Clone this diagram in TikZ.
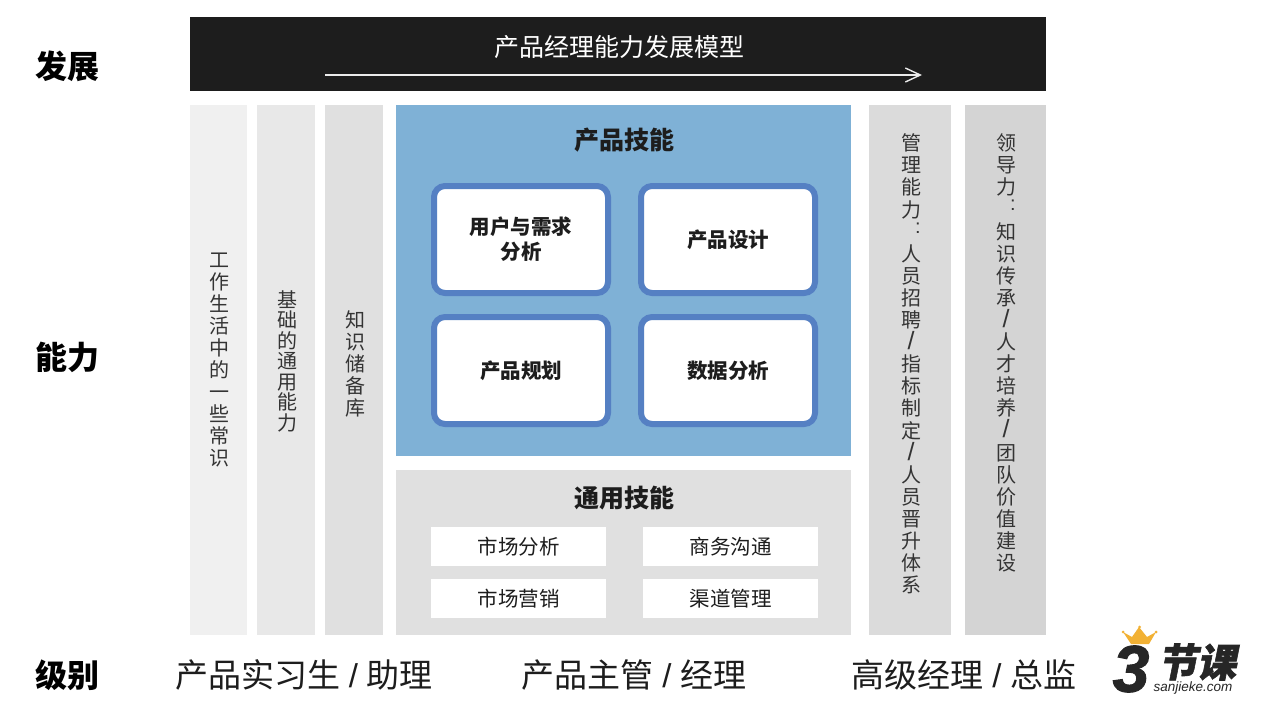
\documentclass[tikz,border=0pt]{standalone}
\usepackage{fontspec}
\usetikzlibrary{arrows.meta}
\setmainfont{Liberation Sans}
\newfontfamily\cjk{Noto Sans CJK SC}
\newfontfamily\logocjk[FakeSlant=0.2,FakeBold=1.5]{Noto Sans CJK SC}
\newfontfamily\logodigit[BoldItalicFeatures={FakeBold=1.5}]{Liberation Sans}
\newcommand{\vslash}{{\rmfamily\fontsize{25}{22}\selectfont /}}
\newcommand{\vcolon}{\hspace{14pt}\raisebox{6pt}{\rmfamily :}}
\newcommand{\gslash}{\hspace{1.5pt}{\rmfamily /}\hspace{1.5pt}}
\definecolor{inkblack}{HTML}{1D1D1D}
\definecolor{skillblue}{HTML}{7FB1D6}
\definecolor{cardblue}{HTML}{5580C3}
\definecolor{crowngold}{HTML}{F2B134}
\tikzset{
  panel/.style n args={3}{anchor=north west,inner sep=0,outer sep=0,minimum width=#1pt,minimum height=#2pt,fill=#3},
  vlabel/.style={align=center,text=inkblack!90,font=\cjk\fontsize{20}{22.1}\selectfont},
  hlabel/.style={text=inkblack,font=\cjk\fontsize{20.5}{25}\selectfont},
  headlabel/.style={text=inkblack,font=\cjk\bfseries\fontsize{25}{30}\selectfont},
  rowlabel/.style={text=black,font=\cjk\bfseries\fontsize{32}{38}\selectfont},
  gradelabel/.style={text=inkblack,font=\cjk\fontsize{33}{40}\selectfont},
  card/.style={anchor=north west,draw=cardblue,line width=6pt,fill=white,rounded corners=11pt,inner sep=0,minimum width=174pt,minimum height=107pt,align=center,text=inkblack,font=\cjk\bfseries\fontsize{20.5}{25}\selectfont},
}
\begin{document}
\begin{tikzpicture}[x=1pt,y=1pt]
  \useasboundingbox[fill=white] (0,0) rectangle (1271,-710);
  % top band
  \node[panel={856}{74}{inkblack}] (band) at (190,-17) {};
  \node[text=white,font=\cjk\fontsize{25}{30}\selectfont] (title) at (619,-47) {产品经理能力发展模型};
  \coordinate (arrowstart) at (325,-75); \coordinate (arrowend) at (922,-75);
  \draw[-{Straight Barb[length=15pt,width=14pt,line width=1.4pt]},white!92!black,line width=1.4pt] (arrowstart)--(arrowend);
  % columns
  \node[panel={57}{530}{black!6}] (daily) at (190,-105) {};
  \node[panel={58}{530}{black!9}] (basic) at (257,-105) {};
  \node[panel={58}{530}{black!12}] (store) at (325,-105) {};
  \node[panel={82}{530}{black!14}] (manage) at (869,-105) {};
  \node[panel={81}{530}{black!17}] (lead) at (965,-105) {};
  \node[vlabel] (dailytext) at (219,-360) {工\\作\\生\\活\\中\\的\\一\\些\\常\\识};
  \node[vlabel,font=\cjk\fontsize{20}{20.5}\selectfont] (basictext) at (287,-361) {基\\础\\的\\通\\用\\能\\力};
  \node[vlabel] (storetext) at (355,-364) {知\\识\\储\\备\\库};
  \node[vlabel] (managetext) at (911,-364) {管\\理\\能\\力\\\vcolon\\人\\员\\招\\聘\\\vslash\\指\\标\\制\\定\\\vslash\\人\\员\\晋\\升\\体\\系};
  \node[vlabel] (leadtext) at (1006,-353) {领\\导\\力\\\vcolon\\知\\识\\传\\承\\\vslash\\人\\才\\培\\养\\\vslash\\团\\队\\价\\值\\建\\设};
  % product skills
  \node[panel={455}{351}{skillblue}] (product) at (396,-105) {};
  \node[headlabel] (producttitle) at (624,-140) {产品技能};
  \node[card] (needs) at (431,-183) {用户与需求\\分析};
  \node[card] (design) at (638,-183) {产品设计};
  \node[card] (plan) at (431,-314) {产品规划};
  \node[card] (data) at (638,-314) {数据分析};
  % general skills
  \node[panel={455}{165}{black!12}] (general) at (396,-470) {};
  \node[headlabel] (generaltitle) at (624,-498) {通用技能};
  \foreach \name/\px/\py/\txt in {market/431/527/市场分析,talk/643/527/商务沟通,promo/431/579/市场营销,channel/643/579/渠道管理}
    {\node[panel={175}{39}{white},hlabel] (\name) at (\px,-\py) {\txt};}
  % left labels
  \node[rowlabel] (grow) at (67,-66) {发展};
  \node[rowlabel] (ability) at (67,-357) {能力};
  \node[rowlabel] (grade) at (67,-675) {级别};
  \node[gradelabel] (junior) at (304,-675) {产品实习生 \gslash\ 助理};
  \node[gradelabel] (middle) at (634,-675) {产品主管 \gslash\ 经理};
  \node[gradelabel] (senior) at (964,-675) {高级经理 \gslash\ 总监};
  % logo
  \node[text=black!85,font=\logodigit\bfseries\itshape\fontsize{66}{66}\selectfont,inner sep=0] (logothree) at (1131,-669) {3};
  \node[text=black!85,font=\logocjk\bfseries\fontsize{39}{39}\selectfont,inner sep=0] (logoname) at (1197,-662) {节课};
  \node[text=black!85,font=\itshape\fontsize{13.5}{14}\selectfont,inner sep=0] (logosite) at (1193,-688) {sanjieke.com};
  \fill[crowngold] (1123,-632)--(1132,-637)--(1139,-627)--(1147,-637)--(1156,-632)--(1149,-644)--(1131,-644)--cycle;
  \foreach \px/\py in {1123/632,1139.5/627,1156/632} {\fill[crowngold] (\px,-\py) circle (1.5);}
\end{tikzpicture}
\end{document}
